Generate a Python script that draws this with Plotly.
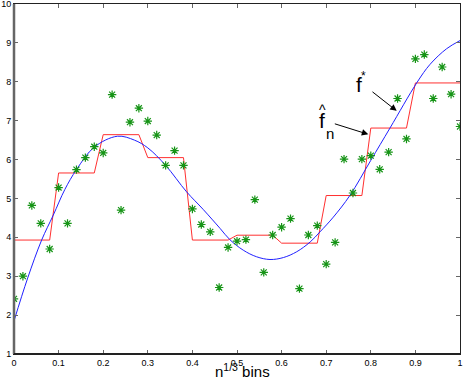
import plotly.graph_objects as go

# ---- data ----
x_pts = [round(i * 0.02, 2) for i in range(51)]
y_pts = [2.42, 3.00, 4.82, 4.36, 3.70, 5.28, 4.36, 5.74, 6.05, 6.33,
         6.17, 7.67, 4.70, 6.96, 7.32, 6.99, 6.63, 5.85, 6.23, 5.85,
         4.73, 4.33, 4.14, 2.71, 3.74, 3.90, 3.94, 4.97, 3.10, 4.06,
         4.26, 4.48, 2.68, 4.06, 4.30, 3.31, 3.87, 6.01, 5.14, 6.01,
         6.10, 5.75, 6.19, 7.57, 6.53, 8.59, 8.70, 7.57, 8.38, 7.68,
         6.85]

bin_vals = [3.93, 5.655, 6.64, 6.05, 3.93, 4.055, 3.85, 5.075, 6.81, 7.97]

true_x = [0.00, 0.03, 0.062, 0.088, 0.114, 0.14, 0.18, 0.232, 0.27, 0.30,
          0.34, 0.387, 0.424, 0.462, 0.484, 0.514, 0.544, 0.574, 0.604, 0.634,
          0.664, 0.686, 0.716, 0.753, 0.80, 0.843, 0.904, 0.933, 0.970, 1.0]
true_y = [1.85, 2.93, 3.93, 4.57, 5.23, 5.74, 6.32, 6.60, 6.50, 6.30,
          5.85, 5.17, 4.72, 4.23, 3.94, 3.67, 3.50, 3.43, 3.48, 3.63,
          3.88, 4.14, 4.52, 5.075, 5.98, 6.81, 7.99, 8.45, 8.85, 9.06]

x_ticks = [0, 0.1, 0.2, 0.3, 0.4, 0.5, 0.6, 0.7, 0.8, 0.9, 1]
x_tick_text = ["0", "0.1", "0.2", "0.3", "0.4", "0.5", "0.6", "0.7", "0.8", "0.9", "1"]
y_ticks = [1, 2, 3, 4, 5, 6, 7, 8, 9, 10]

# step estimate evaluated on the sample grid
step_y = [bin_vals[min(int(round(x * 50)) // 5, 9)] for x in x_pts]

fig = go.Figure()
fig.add_trace(go.Scatter(x=x_pts, y=step_y, mode="lines",
                         line=dict(color="#ff3030", width=1), hoverinfo="skip"))
fig.add_trace(go.Scatter(x=true_x, y=true_y, mode="lines",
                         line=dict(color="#2020ff", width=1, shape="spline", smoothing=1.0),
                         hoverinfo="skip"))
fig.add_trace(go.Scatter(x=x_pts, y=y_pts, mode="markers",
                         marker=dict(symbol="asterisk-open", size=7, color="#169416",
                                     line=dict(color="#169416", width=1.2)),
                         hoverinfo="skip"))

tick_font = dict(family="Liberation Sans, Arial, sans-serif", size=9, color="black")
fig.update_xaxes(range=[0, 1], tickvals=x_ticks, ticktext=x_tick_text,
                 ticks="inside", ticklen=4, tickcolor="#666", tickwidth=1,
                 showline=True, linecolor="#222", linewidth=1, mirror="ticks",
                 showgrid=False, zeroline=False, tickfont=tick_font, automargin=False,
                 ticklabeloverflow="allow")
fig.update_yaxes(range=[1, 10], tickvals=y_ticks,
                 ticks="inside", ticklen=4, tickcolor="#666", tickwidth=1,
                 showline=True, linecolor="#222", linewidth=1, mirror="ticks",
                 showgrid=False, zeroline=False, tickfont=tick_font, automargin=False,
                 ticklabeloverflow="allow")

# heavier left / bottom frame
fig.add_shape(type="line", xref="paper", yref="paper", x0=0, x1=0, y0=0, y1=1,
              line=dict(color="#666", width=2.5))
fig.add_shape(type="line", xref="paper", yref="paper", x0=0, x1=1, y0=0, y1=0,
              line=dict(color="#222", width=2))

big = "Liberation Sans, Arial, sans-serif"
ann = []
# arrows
ann.append(dict(x=0.858, y=7.252, ax=0.8004, ay=7.771, axref="x", ayref="y",
                xref="x", yref="y", text="", showarrow=True, arrowhead=2,
                arrowsize=1.3, arrowwidth=1, arrowcolor="black", standoff=0))
ann.append(dict(x=0.7944, y=6.649, ax=0.716, ay=6.931, axref="x", ayref="y",
                xref="x", yref="y", text="", showarrow=True, arrowhead=2,
                arrowsize=1.3, arrowwidth=1, arrowcolor="black", standoff=0))
# f*
ann.append(dict(x=0.773, y=7.94, xref="x", yref="y", text="f", showarrow=False,
                font=dict(family=big, size=21, color="black"),
                xanchor="center", yanchor="middle"))
ann.append(dict(x=0.784, y=8.16, xref="x", yref="y", text="*", showarrow=False,
                font=dict(family=big, size=12, color="black"),
                xanchor="center", yanchor="middle"))
# f hat n
ann.append(dict(x=0.691, y=7.008, xref="x", yref="y", text="f", showarrow=False,
                font=dict(family=big, size=21, color="black"),
                xanchor="center", yanchor="middle"))
ann.append(dict(x=0.691, y=7.283, xref="x", yref="y", text="^", showarrow=False,
                font=dict(family=big, size=14, color="black"),
                xanchor="center", yanchor="middle"))
ann.append(dict(x=0.708, y=6.674, xref="x", yref="y", text="n", showarrow=False,
                font=dict(family=big, size=15, color="black"),
                xanchor="center", yanchor="middle"))
# x label
ann.append(dict(x=0.512, y=-0.046, xref="paper", yref="paper",
                text="n<sup>1/3</sup> bins", showarrow=False,
                font=dict(family=big, size=15, color="black"),
                xanchor="center", yanchor="middle"))

fig.update_layout(width=464, height=383, autosize=False,
                  margin=dict(l=14, r=4, t=4, b=29),
                  plot_bgcolor="white", paper_bgcolor="white",
                  showlegend=False, annotations=ann)

fig.write_html("out.html", config={"displayModeBar": False},
               post_script="document.body.style.margin='0px';document.body.style.overflow='hidden';")
